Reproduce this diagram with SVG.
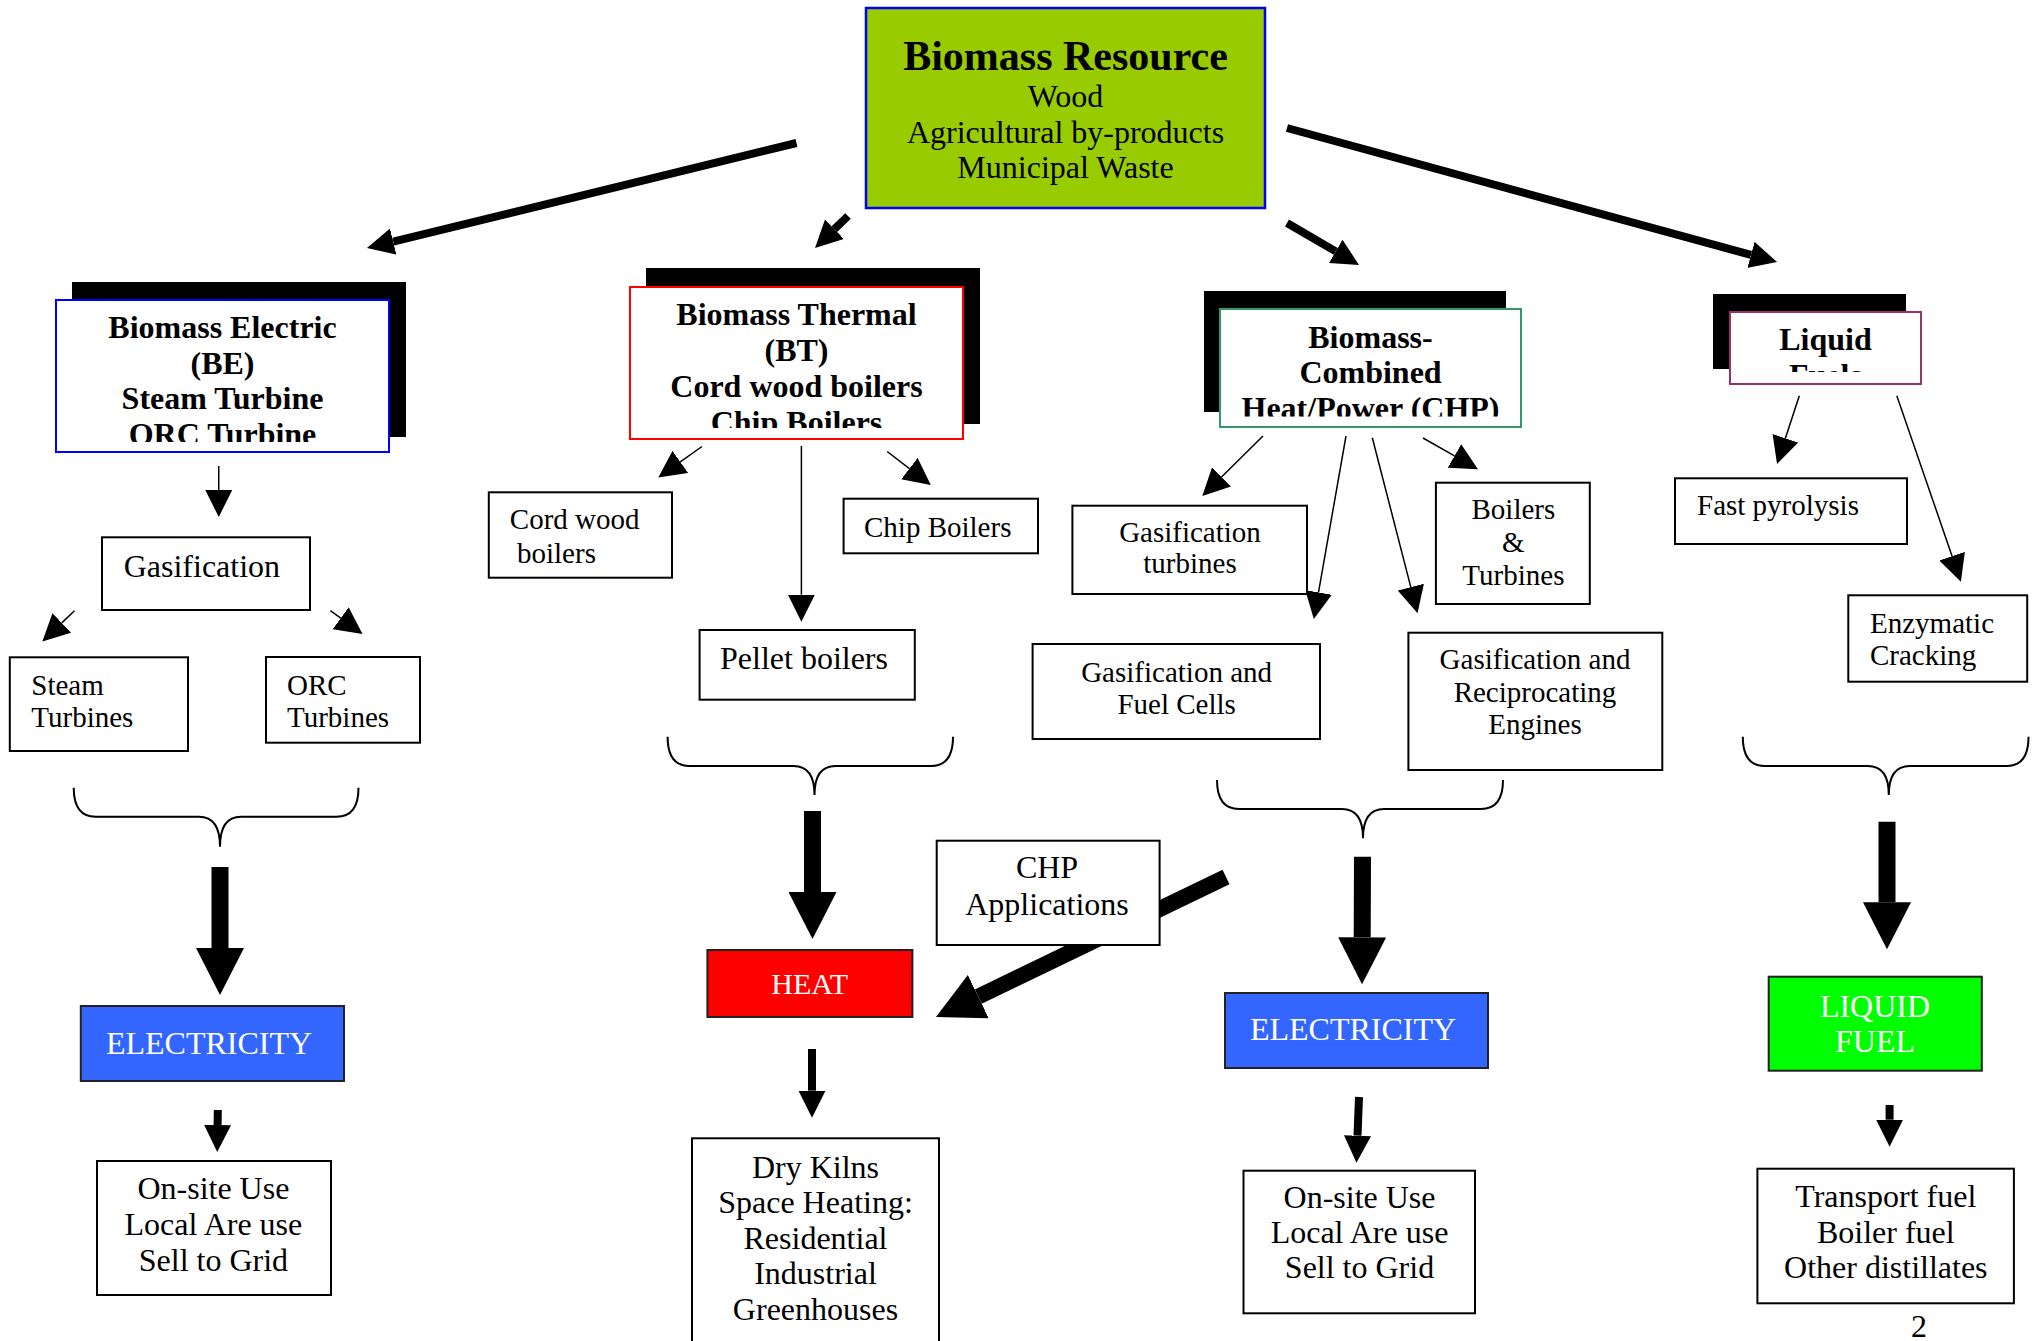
<svg xmlns="http://www.w3.org/2000/svg" width="2034" height="1341" viewBox="0 0 2034 1341">
<style>
.t{font-family:"Liberation Serif","Times New Roman",serif;font-size:32px;fill:#000}
.s{font-size:29px}
.b{font-weight:bold}
.w{fill:#fff}
.c{text-anchor:middle}
.box{fill:#fff;stroke:#000;stroke-width:2}
.shadow{fill:#000;stroke:none}
.thin{stroke:#000;stroke-width:1.5;fill:none;marker-end:url(#h27)}
.med{stroke:#000;stroke-width:8;fill:none;marker-end:url(#h27)}
.big{stroke:#000;stroke-width:17;fill:none;marker-end:url(#h48)}
.brace{fill:none;stroke:#000;stroke-width:2}
</style>
<defs>
<marker id="h27" markerUnits="userSpaceOnUse" viewBox="0 0 27 27" markerWidth="27" markerHeight="27" refX="0" refY="13.5" orient="auto"><path d="M0,0L27,13.5L0,27Z" fill="#000"/></marker>
<marker id="h48" markerUnits="userSpaceOnUse" viewBox="0 0 47 48" markerWidth="47" markerHeight="48" refX="0" refY="24" orient="auto"><path d="M0,0L47,24L0,48Z" fill="#000"/></marker>
<clipPath id="cBE"><rect x="56" y="300" width="333" height="142"/></clipPath>
<clipPath id="cBT"><rect x="630" y="287" width="333" height="141"/></clipPath>
<clipPath id="cCHP"><rect x="1220" y="309" width="301" height="107.5"/></clipPath>
<clipPath id="cLQ"><rect x="1730" y="312" width="191" height="60"/></clipPath>
</defs>

<g id="connectors">
<!-- main arrows from resource -->
<line class="med" x1="796.5" y1="143" x2="393.2" y2="241.6"/>
<line class="med" x1="848" y1="216" x2="834.4" y2="229.2"/>
<line class="med" x1="1287" y1="223" x2="1335.7" y2="251.4"/>
<line class="med" x1="1287" y1="128" x2="1751" y2="254.9"/>
<!-- BE -->
<line class="thin" x1="218.75" y1="466" x2="218.75" y2="490"/>
<line class="thin" x1="74.5" y1="610.7" x2="61.8" y2="622.9"/>
<line class="thin" x1="330.4" y1="610.7" x2="340.7" y2="618.2"/>
<path class="brace" d="M73.7,787.7 Q73.7,816.7 95.7,816.7 L199,816.7 Q220,816.7 220,846.7 Q220,816.7 241,816.7 L336.5,816.7 Q358.5,816.7 358.5,787.7"/>
<line class="big" x1="220" y1="867" x2="220" y2="948"/>
<line class="med" x1="217.8" y1="1110" x2="217.6" y2="1125"/>
<!-- BT -->
<line class="thin" x1="702" y1="446.5" x2="680.3" y2="461.9"/>
<line class="thin" x1="801.4" y1="446" x2="801.4" y2="594.7"/>
<line class="thin" x1="887.2" y1="451.5" x2="909.4" y2="468.6"/>
<path class="brace" d="M667.6,736.7 Q667.6,766 689.6,766 L793.5,766 Q814.5,766 814.5,795 Q814.5,766 835.5,766 L931,766 Q953,766 953,736.7"/>
<line class="big" x1="812.5" y1="811" x2="812.5" y2="892"/>
<line class="med" x1="812" y1="1049" x2="812" y2="1090.7"/>
<line class="big" style="stroke-width:16" x1="1226" y1="877" x2="978.3" y2="996.6"/>
<!-- CHP -->
<line class="thin" x1="1263" y1="436" x2="1221.5" y2="477"/>
<line class="thin" x1="1346" y1="436" x2="1318.5" y2="592.4"/>
<line class="thin" x1="1372.3" y1="437.7" x2="1410.8" y2="587.1"/>
<line class="thin" x1="1423" y1="438" x2="1454.5" y2="455.9"/>
<path class="brace" d="M1217,780 Q1217,809 1239,809 L1342,809 Q1363,809 1363,838.3 Q1363,809 1384,809 L1481,809 Q1503,809 1503,780"/>
<line class="big" x1="1362.5" y1="856.7" x2="1362.2" y2="937.3"/>
<line class="med" x1="1359" y1="1097" x2="1357.5" y2="1135.7"/>
<!-- Liquid -->
<line class="thin" x1="1799.3" y1="395.7" x2="1785.4" y2="438.3"/>
<line class="thin" x1="1896.8" y1="395.7" x2="1952.1" y2="556.2"/>
<path class="brace" d="M1742.8,736.7 Q1742.8,766 1764.8,766 L1867.8,766 Q1888.8,766 1888.8,795 Q1888.8,766 1909.8,766 L2006.5,766 Q2028.5,766 2028.5,736.7"/>
<line class="big" x1="1887" y1="821.7" x2="1887" y2="902.3"/>
<line class="med" x1="1889.6" y1="1105" x2="1889.6" y2="1119.7"/>
</g>

<g id="biomass-resource">
<rect x="866" y="8" width="399" height="200" fill="#99CC00" stroke="#0000FF" stroke-width="2.5"/>
<text class="t b c" style="font-size:42px" x="1065.5" y="70">Biomass Resource</text>
<text class="t c" x="1065.5" y="107">Wood</text>
<text class="t c" x="1065.5" y="143">Agricultural by-products</text>
<text class="t c" x="1065.5" y="178">Municipal Waste</text>
</g>

<g id="biomass-electric">
<rect class="shadow" x="72" y="282" width="334" height="155"/>
<rect x="56" y="300" width="333" height="152" fill="#fff" stroke="#0000FF" stroke-width="2"/>
<g clip-path="url(#cBE)">
<text class="t b c" x="222.5" y="338">Biomass Electric</text>
<text class="t b c" x="222.5" y="373.5">(BE)</text>
<text class="t b c" x="222.5" y="409">Steam Turbine</text>
<text class="t b c" x="222.5" y="444.5">ORC Turbine</text>
</g>
</g>

<g id="biomass-thermal">
<rect class="shadow" x="646" y="268" width="334" height="156"/>
<rect x="630" y="287" width="333" height="152" fill="#fff" stroke="#FF0000" stroke-width="2"/>
<g clip-path="url(#cBT)">
<text class="t b c" x="796.5" y="325">Biomass Thermal</text>
<text class="t b c" x="796.5" y="361">(BT)</text>
<text class="t b c" x="796.5" y="397">Cord wood boilers</text>
<text class="t b c" x="796.5" y="433">Chip Boilers</text>
</g>
</g>

<g id="biomass-chp">
<rect class="shadow" x="1204" y="291" width="302" height="121"/>
<rect x="1220" y="309" width="301" height="118" fill="#fff" stroke="#339966" stroke-width="2"/>
<g clip-path="url(#cCHP)">
<text class="t b c" x="1370.5" y="348">Biomass-</text>
<text class="t b c" x="1370.5" y="383">Combined</text>
<text class="t b c" x="1370.5" y="418.5">Heat/Power (CHP)</text>
</g>
</g>

<g id="liquid-fuels">
<rect class="shadow" x="1713" y="294" width="193" height="75"/>
<rect x="1730" y="312" width="191" height="72" fill="#fff" stroke="#993366" stroke-width="2"/>
<g clip-path="url(#cLQ)">
<text class="t b c" x="1825.5" y="350">Liquid</text>
<text class="t b c" x="1825.5" y="386">Fuels</text>
</g>
</g>

<g id="gasification">
<rect class="box" x="102" y="537.3" width="208" height="72.7"/>
<text class="t" x="123.7" y="576.7">Gasification</text>
</g>
<g id="steam-turbines">
<rect class="box" x="9.8" y="657.3" width="178.2" height="93.7"/>
<text class="t s" x="31.3" y="695">Steam</text>
<text class="t s" x="31.3" y="727.3">Turbines</text>
</g>
<g id="orc-turbines">
<rect class="box" x="266" y="657" width="154" height="85.7"/>
<text class="t s" x="287" y="695">ORC</text>
<text class="t s" x="287" y="727.3">Turbines</text>
</g>
<g id="electricity-be">
<rect x="80.8" y="1006" width="263.2" height="75" fill="#3366FF" stroke="#222" stroke-width="2"/>
<text class="t c w" x="209" y="1054">ELECTRICITY</text>
</g>
<g id="uses-be">
<rect class="box" x="97" y="1161" width="234" height="134"/>
<text class="t c" x="213.4" y="1199">On-site Use</text>
<text class="t c" x="213.4" y="1235">Local Are use</text>
<text class="t c" x="213.4" y="1270.5">Sell to Grid</text>
</g>

<g id="cord-wood-boilers">
<rect class="box" x="488.8" y="492.3" width="183.2" height="85.4"/>
<text class="t s" x="509.8" y="529.3">Cord wood</text>
<text class="t s" x="517" y="562.7">boilers</text>
</g>
<g id="chip-boilers">
<rect class="box" x="843.6" y="498.7" width="194.4" height="54.6"/>
<text class="t s" x="864" y="536.7">Chip Boilers</text>
</g>
<g id="pellet-boilers">
<rect class="box" x="699.6" y="630" width="215.2" height="69.7"/>
<text class="t" x="720" y="669.3">Pellet boilers</text>
</g>
<g id="chp-applications">
<rect class="box" x="936.7" y="840.7" width="222.9" height="104.3"/>
<text class="t c" x="1047" y="878.3">CHP</text>
<text class="t c" x="1047" y="915">Applications</text>
</g>
<g id="heat">
<rect x="707.4" y="950" width="205" height="67" fill="#FF0000" stroke="#222" stroke-width="2"/>
<text class="t c w" style="font-size:30px" x="809.7" y="994.3">HEAT</text>
</g>
<g id="heat-uses">
<rect class="box" x="692" y="1138.3" width="247" height="230"/>
<text class="t c" x="815.5" y="1178">Dry Kilns</text>
<text class="t c" x="815.5" y="1213">Space Heating:</text>
<text class="t c" x="815.5" y="1248.5">Residential</text>
<text class="t c" x="815.5" y="1284">Industrial</text>
<text class="t c" x="815.5" y="1319.5">Greenhouses</text>
</g>

<g id="gasification-turbines">
<rect class="box" x="1072.4" y="505.7" width="234.6" height="88.3"/>
<text class="t s c" x="1190" y="541.7">Gasification</text>
<text class="t s c" x="1190" y="573.3">turbines</text>
</g>
<g id="gasification-fuel-cells">
<rect class="box" x="1032.6" y="644" width="287.4" height="95"/>
<text class="t s c" x="1176.6" y="681.7">Gasification and</text>
<text class="t s c" x="1176.6" y="714">Fuel Cells</text>
</g>
<g id="boilers-turbines">
<rect class="box" x="1435.9" y="482.7" width="153.9" height="121.3"/>
<text class="t s c" x="1513.4" y="519">Boilers</text>
<text class="t s c" x="1513.4" y="551.7">&amp;</text>
<text class="t s c" x="1513.4" y="585">Turbines</text>
</g>
<g id="gasification-reciprocating">
<rect class="box" x="1408.4" y="632.7" width="253.9" height="137.3"/>
<text class="t s c" x="1535" y="669.3">Gasification and</text>
<text class="t s c" x="1535" y="701.7">Reciprocating</text>
<text class="t s c" x="1535" y="734.3">Engines</text>
</g>
<g id="electricity-chp">
<rect x="1225" y="993" width="263" height="75" fill="#3366FF" stroke="#222" stroke-width="2"/>
<text class="t c w" x="1353" y="1040">ELECTRICITY</text>
</g>
<g id="uses-chp">
<rect class="box" x="1243.5" y="1170.7" width="231.5" height="142.6"/>
<text class="t c" x="1359.5" y="1208.3">On-site Use</text>
<text class="t c" x="1359.5" y="1243.3">Local Are use</text>
<text class="t c" x="1359.5" y="1278.3">Sell to Grid</text>
</g>

<g id="fast-pyrolysis">
<rect class="box" x="1675" y="478.3" width="232" height="65.7"/>
<text class="t s" x="1697" y="515">Fast pyrolysis</text>
</g>
<g id="enzymatic-cracking">
<rect class="box" x="1848.3" y="595.3" width="178.9" height="86.4"/>
<text class="t s" x="1870" y="632.7">Enzymatic</text>
<text class="t s" x="1870" y="665">Cracking</text>
</g>
<g id="liquid-fuel">
<rect x="1768.7" y="976.7" width="213.1" height="94" fill="#00FF00" stroke="#222" stroke-width="2"/>
<text class="t c w" x="1875" y="1016.7">LIQUID</text>
<text class="t c w" x="1875" y="1051.7">FUEL</text>
</g>
<g id="liquid-uses">
<rect class="box" x="1757.4" y="1168.7" width="256.5" height="134.6"/>
<text class="t c" x="1885.8" y="1207.3">Transport fuel</text>
<text class="t c" x="1885.8" y="1242.7">Boiler fuel</text>
<text class="t c" x="1885.8" y="1278.3">Other distillates</text>
</g>
<text class="t c" x="1919" y="1337">2</text>
</svg>
